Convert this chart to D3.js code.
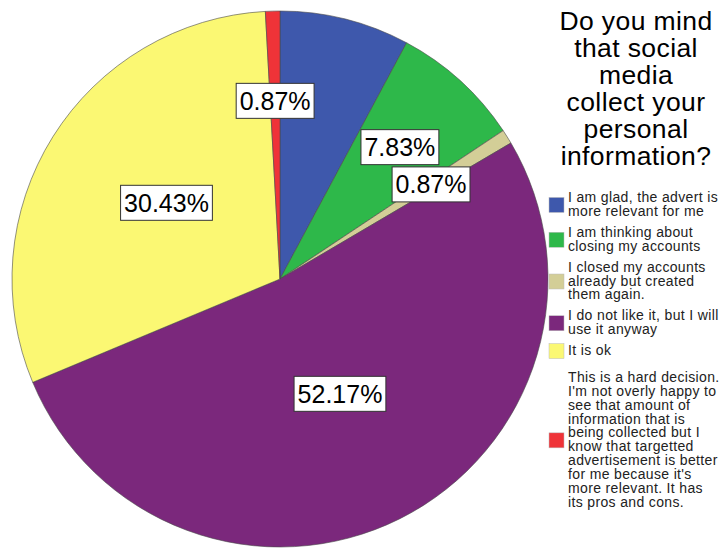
<!DOCTYPE html>
<html>
<head>
<meta charset="utf-8">
<script src="https://cdn.jsdelivr.net/npm/d3@7"></script>
<style>
  html, body { margin: 0; padding: 0; background: #fff; }
  svg { display: block; font-family: "Liberation Sans", Arial, sans-serif; }
</style>
</head>
<body>
<svg id="chart" width="723" height="549"></svg>
<script>
// Survey answers, in pie order (clockwise from 12 o'clock)
const legendLines = [
  ["I am glad, the advert is", "more relevant for me"],
  ["I am thinking about", "closing my accounts"],
  ["I closed my accounts", "already but created", "them again."],
  ["I do not like it, but I will", "use it anyway"],
  ["It is ok"],
  ["This is a hard decision.", "I'm not overly happy to", "see that amount of",
   "information that is", "being collected but I", "know that targetted",
   "advertisement is better", "for me because it's", "more relevant. It has",
   "its pros and cons."]
];
const categories = legendLines.map(l => l.join(" "));
const percents = [7.83, 7.83, 0.87, 52.17, 30.43, 0.87];
const colors = ["#3e58ac", "#2eb84a", "#d3ce97", "#7b287c", "#fbf873", "#ef3338"];
const showLabel = [false, true, true, true, true, true];
const titleLines = ["Do you mind", "that social", "media", "collect your", "personal", "information?"];

const svg = d3.select("#chart");
const cx = 280, cy = 279, R = 268;

const data = categories.map((c, i) => ({ name: c, value: percents[i], color: colors[i], label: showLabel[i] }));

const pie = d3.pie().value(d => d.value).sort(null).startAngle(0).endAngle(2 * Math.PI);
const arc = d3.arc().innerRadius(0).outerRadius(R);
const arcs = pie(data);

const g = svg.append("g").attr("transform", `translate(${cx},${cy})`);

g.selectAll("path.slice")
  .data(arcs)
  .join("path")
  .attr("class", "slice")
  .attr("d", arc)
  .attr("fill", d => d.data.color)
  .attr("stroke", "#4a4a4a")
  .attr("stroke-width", 0.6)
  .attr("stroke-linejoin", "round");

// Value labels: boxed; labels of wide slices sit nearer the middle, a little raised
const labelG = g.selectAll("g.lab")
  .data(arcs.filter(d => d.data.label))
  .join("g")
  .attr("class", "lab")
  .attr("transform", d => {
    const big = d.data.value > 20;
    const r = big ? R * 0.5 : R * 0.665;
    const a = (d.startAngle + d.endAngle) / 2;
    return `translate(${r * Math.sin(a)},${-r * Math.cos(a) - (big ? 5 : 0)})`;
  });

labelG.each(function(d) {
  const sel = d3.select(this);
  const rect = sel.append("rect");
  const txt = sel.append("text")
    .attr("text-anchor", "middle")
    .attr("dy", "0.36em")
    .attr("font-size", 25)
    .attr("fill", "#000")
    .text(d.data.value.toFixed(2) + "%");
  const w = txt.node().getComputedTextLength() + 7;
  const h = 35;
  rect.attr("x", -w / 2).attr("y", -h / 2)
    .attr("width", w).attr("height", h)
    .attr("fill", "#fff")
    .attr("stroke", "#333")
    .attr("stroke-width", 1);
});

// Title
svg.append("text")
  .attr("text-anchor", "middle")
  .attr("font-size", 26.5)
  .attr("letter-spacing", 0.4)
  .attr("fill", "#000")
  .selectAll("tspan")
  .data(titleLines)
  .join("tspan")
  .attr("x", 636)
  .attr("y", (d, i) => 30 + i * 27)
  .text(d => d);

// Legend
const lineH = 13.9, gap = 7, minH = 19.7, sw = 15;
let base = 202;
const legend = svg.append("g");
data.forEach((d, i) => {
  const lines = legendLines[i];
  const last = base + (lines.length - 1) * lineH;
  const mid = (base + last) / 2 - 4;
  legend.append("rect")
    .attr("x", 549).attr("y", mid - sw / 2)
    .attr("width", sw).attr("height", sw)
    .attr("fill", d.color)
    .attr("stroke", "#bbb")
    .attr("stroke-width", 0.5);
  const t = legend.append("text")
    .attr("font-size", 14)
    .attr("letter-spacing", 0.35)
    .attr("fill", "#222");
  lines.forEach((ln, k) => {
    t.append("tspan").attr("x", 568).attr("y", base + k * lineH).text(ln);
  });
  base += Math.max(lines.length * lineH, minH) + gap;
});
</script>
</body>
</html>
